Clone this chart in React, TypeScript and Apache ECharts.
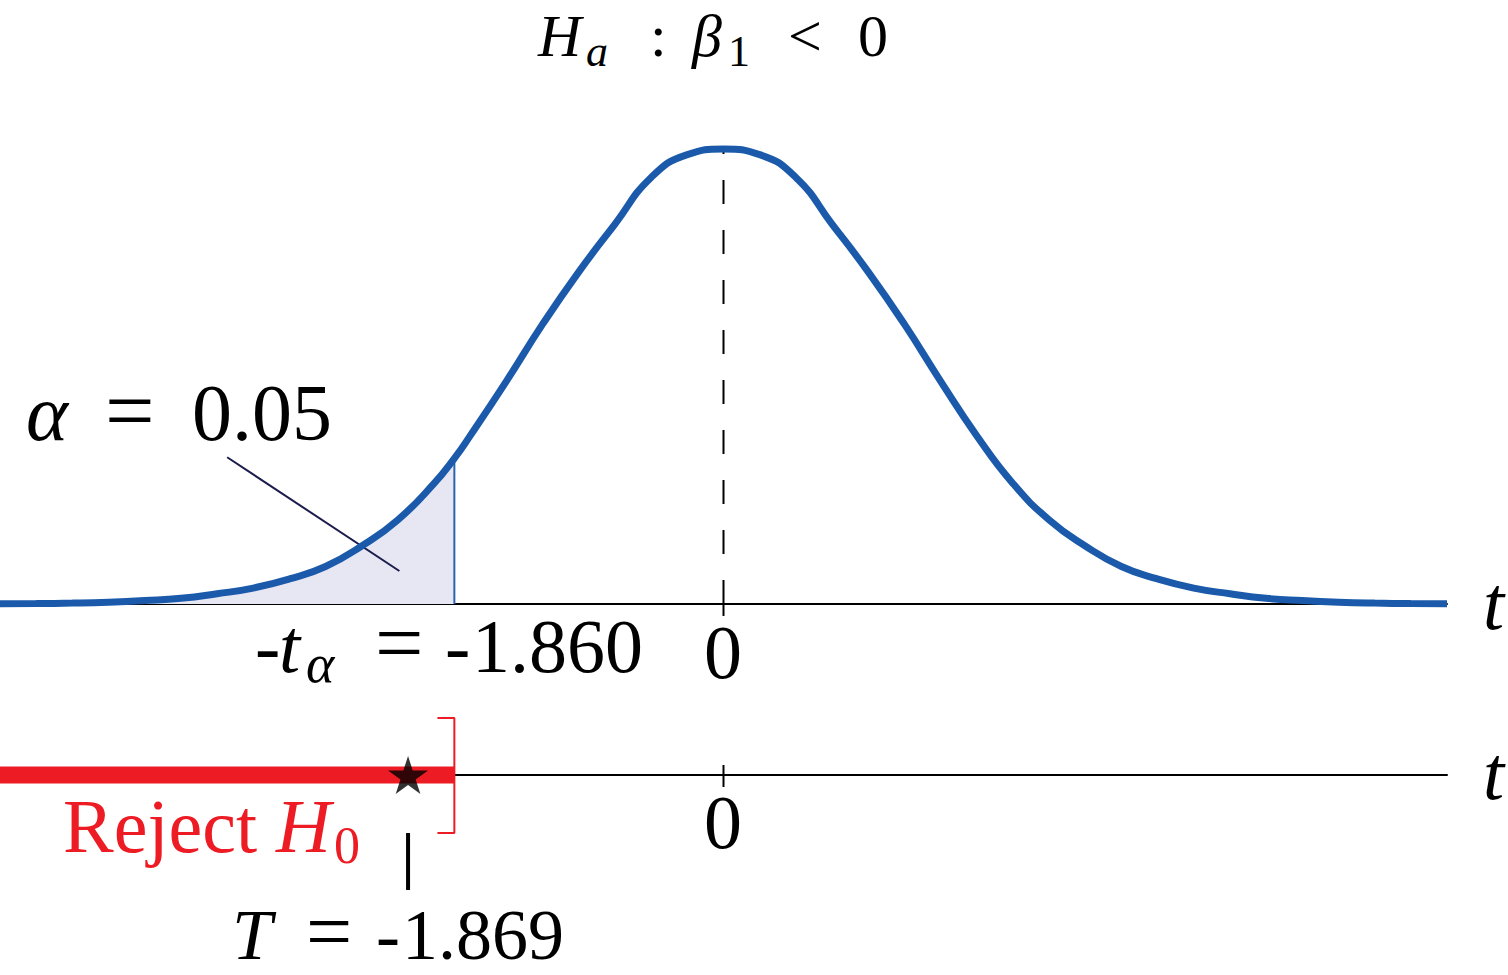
import React, { useEffect, useRef } from "react";
import * as echarts from "echarts";

// ---- data ----
const curveT = [
  -5, -4.75, -4.5, -4.25, -4, -3.75, -3.5, -3.25, -3, -2.75, -2.5, -2.25, -2, -1.86, -1.75, -1.5, -1.25, -1, -0.75,
  -0.5, -0.25, 0, 0.25, 0.5, 0.75, 1, 1.25, 1.5, 1.75, 2, 2.25, 2.5, 2.75, 3, 3.25, 3.5, 3.75, 4, 4.25, 4.5, 4.75, 5,
];
const curveDensity = [
  0.0002, 0.0004, 0.0008, 0.0016, 0.003, 0.005, 0.009, 0.014, 0.022, 0.033, 0.051, 0.074, 0.106, 0.128, 0.148, 0.196,
  0.246, 0.292, 0.334, 0.375, 0.395, 0.4, 0.395, 0.375, 0.334, 0.292, 0.246, 0.196, 0.148, 0.106, 0.074, 0.051, 0.033,
  0.022, 0.014, 0.009, 0.005, 0.003, 0.0016, 0.0008, 0.0004, 0.0002,
];
const tMin = -5;
const tMax = 5;
const tCrit = -1.86;
const densityAtCrit = 0.128;
const peakDensity = 0.4;
const starT = -2.18; // where the star marking T = -1.869 is drawn
const pointerStart = [-3.43, 0.129];
const pointerEnd = [-2.24, 0.029];
const titleParts = ["H", "a", ":", "β", "1", "<", "0"];
const alphaParts = ["α", "=", "0.05"];
const critParts = ["-", "t", "α", "=", "-", "1.860"];
const rejectParts = ["Reject", "H", "0"];
const statParts = ["T", "=", "-", "1.869"];
const zeroLabel = "0";
const axisName = "t";

const BLUE = "#1b5aaa";
const RED = "#ed1c24";

function piece(text: string, left: number, baseline: number, size: number, italic: boolean, color = "#000", align = "left") {
  return {
    type: "text",
    x: left,
    y: baseline - 0.34 * size,
    silent: true,
    z: 100,
    style: {
      text,
      fill: color,
      font: `${italic ? "italic " : ""}${size}px "Liberation Serif"`,
      align,
      verticalAlign: "middle",
    },
  };
}

export default function App() {
  const ref = useRef<HTMLDivElement>(null);
  useEffect(() => {
    if (!ref.current) return;
    const chart = echarts.init(ref.current, undefined, { renderer: "svg" });
    const curve = curveT.map((t, i) => [t, curveDensity[i]]);
    const fill = curve.filter((p) => p[0] <= tCrit);

    const graphic = [
      // title
      piece(titleParts[0], 538, 56, 60, true),
      piece(titleParts[1], 586, 66, 44, true),
      piece(titleParts[2], 650, 56, 60, false),
      piece(titleParts[3], 692, 56, 60, true),
      piece(titleParts[4], 728, 66, 44, false),
      piece(titleParts[5], 788, 56, 60, false),
      piece(titleParts[6], 858, 56, 60, false),
      // alpha label
      piece(alphaParts[0], 26, 440, 80, true),
      piece(alphaParts[1], 105, 440, 88, false),
      piece(alphaParts[2], 192, 440, 80, false),
      // critical value
      piece(critParts[0], 255, 672, 76, false),
      piece(critParts[1], 279, 672, 76, true),
      piece(critParts[2], 306, 682, 54, true),
      piece(critParts[3], 375, 672, 86, false),
      piece(critParts[4], 445, 672, 76, false),
      piece(critParts[5], 472, 672, 76, false),
      // zeros and axis names
      piece(zeroLabel, 723, 678, 76, false, "#000", "center"),
      piece(zeroLabel, 723, 848, 76, false, "#000", "center"),
      piece(axisName, 1483, 629, 76, true),
      piece(axisName, 1483, 799, 76, true),
      // reject
      piece(rejectParts[0], 63, 852, 76, false, RED),
      piece(rejectParts[1], 276, 852, 76, true, RED),
      piece(rejectParts[2], 334, 863, 52, false, RED),
      // statistic
      piece(statParts[0], 232, 959, 72, true),
      piece(statParts[1], 306, 959, 82, false),
      piece(statParts[2], 376, 959, 72, false),
      piece(statParts[3], 402, 959, 72, false),
    ];

    const seg = (data: number[][], color: string, width: number, extra: any = {}) => ({
      type: "line",
      data,
      symbol: "none",
      silent: true,
      clip: false,
      lineStyle: { color, width, cap: "butt", ...(extra.lineStyle || {}) },
      z: extra.z ?? 3,
      xAxisIndex: extra.grid ?? 0,
      yAxisIndex: extra.grid ?? 0,
    });

    chart.setOption({
      animation: false,
      backgroundColor: "#fff",
      grid: [
        { left: 0, top: 149, width: 1447, height: 455 },
        { left: 0, top: 635, width: 1447, height: 280 },
      ],
      xAxis: [
        {
          type: "value",
          gridIndex: 0,
          min: tMin,
          max: tMax,
          axisLine: { show: true, onZero: false, lineStyle: { color: "#000", width: 2 } },
          axisTick: { show: false },
          axisLabel: { show: false },
          splitLine: { show: false },
        },
        {
          type: "value",
          gridIndex: 1,
          min: tMin,
          max: tMax,
          axisLine: { show: true, onZero: true, lineStyle: { color: "#000", width: 2 } },
          axisTick: { show: false },
          axisLabel: { show: false },
          splitLine: { show: false },
        },
      ],
      yAxis: [
        { type: "value", gridIndex: 0, min: 0, max: peakDensity, show: false },
        { type: "value", gridIndex: 1, min: -2, max: 2, show: false },
      ],
      graphic,
      series: [
        {
          type: "line",
          data: fill,
          smooth: 0.5,
          symbol: "none",
          silent: true,
          clip: false,
          lineStyle: { width: 0 },
          areaStyle: { color: "#e6e7f3", opacity: 1 },
          z: 1,
        },
        seg([[tCrit, 0], [tCrit, densityAtCrit]], "#2b63b0", 2),
        seg([[0, 0], [0, peakDensity]], "#000", 2, { lineStyle: { type: [24, 26] } }),
        seg([[0, 0], [0, -0.0105]], "#000", 2),
        seg([pointerStart, pointerEnd], "#1c1c4c", 2),
        {
          type: "line",
          data: curve,
          smooth: 0.5,
          symbol: "none",
          silent: true,
          clip: false,
          lineStyle: { color: BLUE, width: 7 },
          z: 5,
        },
        // lower axis
        seg([[tMin, 0], [tCrit, 0]], RED, 17, { grid: 1 }),
        seg(
          [
            [tCrit - 0.117, 0.814],
            [tCrit, 0.814],
            [tCrit, -0.829],
            [tCrit - 0.117, -0.829],
          ],
          RED,
          2,
          { grid: 1 }
        ),
        seg([[0, 0.143], [0, -0.171]], "#000", 2, { grid: 1 }),
        seg([[starT, -0.829], [starT, -1.643]], "#000", 4, { grid: 1 }),
        {
          type: "scatter",
          xAxisIndex: 1,
          yAxisIndex: 1,
          data: [[starT, 0]],
          symbol:
            "path://M50 0 L61.17 34.63 L97.55 34.55 L68.07 55.87 L79.39 90.45 L50 69 L20.61 90.45 L31.93 55.87 L2.45 34.55 L38.83 34.63 Z",
          symbolSize: [40, 38],
          itemStyle: { color: "#000" },
          silent: true,
          z: 6,
        },
      ],
    });
    return () => chart.dispose();
  }, []);
  return (
    <div
      ref={ref}
      style={{ position: "fixed", left: 0, top: 0, width: 1508, height: 975, background: "#fff" }}
    />
  );
}
